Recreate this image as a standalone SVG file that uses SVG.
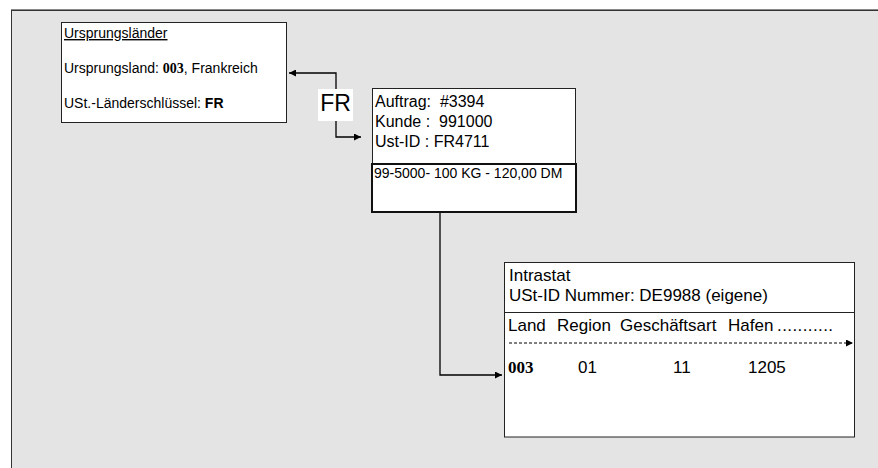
<svg xmlns="http://www.w3.org/2000/svg" width="878" height="468" viewBox="0 0 878 468">
<defs>
<marker id="ah" viewBox="0 0 10 10" refX="10" refY="5" markerWidth="9" markerHeight="7" markerUnits="userSpaceOnUse" orient="auto-start-reverse">
<path d="M0,0 L10,5 L0,10 Z" fill="#000"/>
</marker>
</defs>
<style>
text{font-family:"Liberation Sans",Arial,sans-serif;fill:#000}
.box{fill:#fff;stroke:#222;stroke-width:1}
.s14{font-size:14px}
.s16{font-size:16px}
.s17{font-size:17px}
.bs{font-family:"Liberation Serif","Times New Roman",serif;font-weight:bold}
.b{font-weight:bold}
.conn{fill:none;stroke:#000;stroke-width:1.3}
</style>
<rect x="0" y="0" width="878" height="468" fill="#fff"/>
<line x1="11" y1="9.5" x2="878" y2="9.5" stroke="#888" stroke-width="1"/>
<rect x="11.5" y="10.5" width="880" height="470" fill="#e4e4e4" stroke="#333" stroke-width="1"/>

<g id="connectors">
<path class="conn" d="M289,73 H336 V137 H361" marker-start="url(#ah)" marker-end="url(#ah)"/>
<path class="conn" d="M440,212 V375 H502" marker-end="url(#ah)"/>
</g>

<g id="fr-label">
<rect x="318" y="89" width="35" height="32" fill="#fff"/>
<text x="335.5" y="111" font-size="23" text-anchor="middle">FR</text>
</g>

<g id="ursprungslaender">
<rect class="box" x="61.5" y="22.5" width="225" height="100"/>
<text class="s14" x="64" y="38" text-decoration="underline">Ursprungsländer</text>
<text class="s14" x="64" y="73">Ursprungsland: <tspan class="bs">003</tspan>, Frankreich</text>
<text class="s14" x="64" y="108">USt.-Länderschlüssel: <tspan class="b">FR</tspan></text>
</g>

<g id="auftrag">
<rect class="box" x="372.5" y="88.5" width="203" height="75.5"/>
<text class="s16" x="375" y="107" xml:space="preserve">Auftrag:  #3394</text>
<text class="s16" x="375" y="127" xml:space="preserve">Kunde :  991000</text>
<text class="s16" x="375" y="147">Ust-ID : FR4711</text>
<rect x="372" y="164" width="204" height="48" fill="#fff" stroke="#111" stroke-width="2"/>
<text class="s14" x="374" y="178">99-5000- 100 KG - 120,00 DM</text>
</g>

<g id="intrastat">
<rect class="box" x="504.5" y="262.5" width="350" height="174.5" stroke-width="1.3"/>
<line x1="505" y1="312.5" x2="854" y2="312.5" stroke="#222" stroke-width="1"/>
<text class="s17" x="509" y="281">Intrastat</text>
<text class="s17" x="509" y="301">USt-ID Nummer: DE9988 (eigene)</text>
<text class="s17" x="508" y="331">Land</text>
<text class="s17" x="557" y="331">Region</text>
<text class="s17" x="620" y="331">Geschäftsart</text>
<text class="s17" x="728" y="331">Hafen</text>
<text class="s17" x="777" y="331" textLength="56" lengthAdjust="spacing">...........</text>
<line x1="509" y1="343" x2="853" y2="343" stroke="#000" stroke-width="1" stroke-dasharray="3,2" marker-end="url(#ah)"/>
<text class="s17 bs" x="508" y="373">003</text>
<text class="s17" x="578" y="373">01</text>
<text class="s17" x="673" y="373">11</text>
<text class="s17" x="748" y="373">1205</text>
</g>
</svg>
